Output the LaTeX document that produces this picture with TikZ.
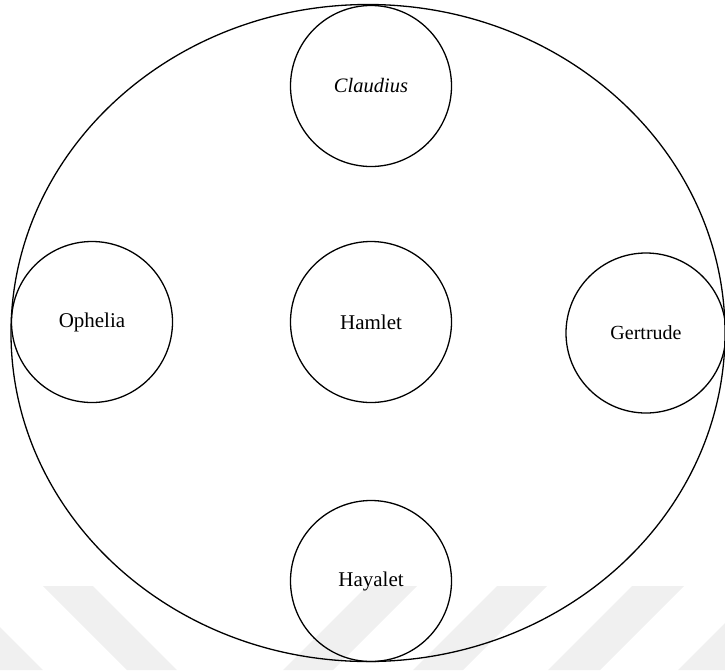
\documentclass[tikz,border=0pt]{standalone}
\usepackage{fontspec}
\setmainfont{Liberation Serif}
\usetikzlibrary{shapes.geometric}
\tikzset{
  role/.style={circle, draw, line width=1.3pt, minimum size=161pt, inner sep=0pt,
    font=\fontsize{21}{25}\selectfont},
  stage/.style={ellipse, draw, line width=1.3pt, minimum width=714pt, minimum height=657pt, inner sep=0pt},
  wmark/.style={fill=black!6, draw=none}
}
\begin{document}
\begin{tikzpicture}[x=1pt, y=-1pt]
\useasboundingbox (0,0) rectangle (725,670);
\begin{scope}
\clip (0,0) rectangle (725,670);
\fill[wmark] (-91,586) -- (-41,586) -- (43,670) -- (-7,670) -- cycle;
\fill[wmark] (43,586) -- (93,586) -- (177,670) -- (127,670) -- cycle;
\fill[wmark] (367,586) -- (417,586) -- (333,670) -- (283,670) -- cycle;
\fill[wmark] (497,586) -- (547,586) -- (463,670) -- (413,670) -- cycle;
\fill[wmark] (632,586) -- (684,586) -- (600,670) -- (548,670) -- cycle;
\fill[wmark] (762,586) -- (812,586) -- (728,670) -- (678,670) -- cycle;
\end{scope}
\node[stage] (stage) at (368,333) {};
\node[role, font=\fontsize{20.5}{25}\selectfont\itshape] (claudius) at (371,86) {Claudius};
\node[role] (hamlet) at (371,322) {Hamlet};
\node[role] (ophelia) at (92,322) {Ophelia};
\node[role, minimum size=160pt, font=\fontsize{20}{24}\selectfont] (gertrude) at (646,333) {Gertrude};
\node[role] (hayalet) at (371,581) {Hayalet};
\end{tikzpicture}
\end{document}
